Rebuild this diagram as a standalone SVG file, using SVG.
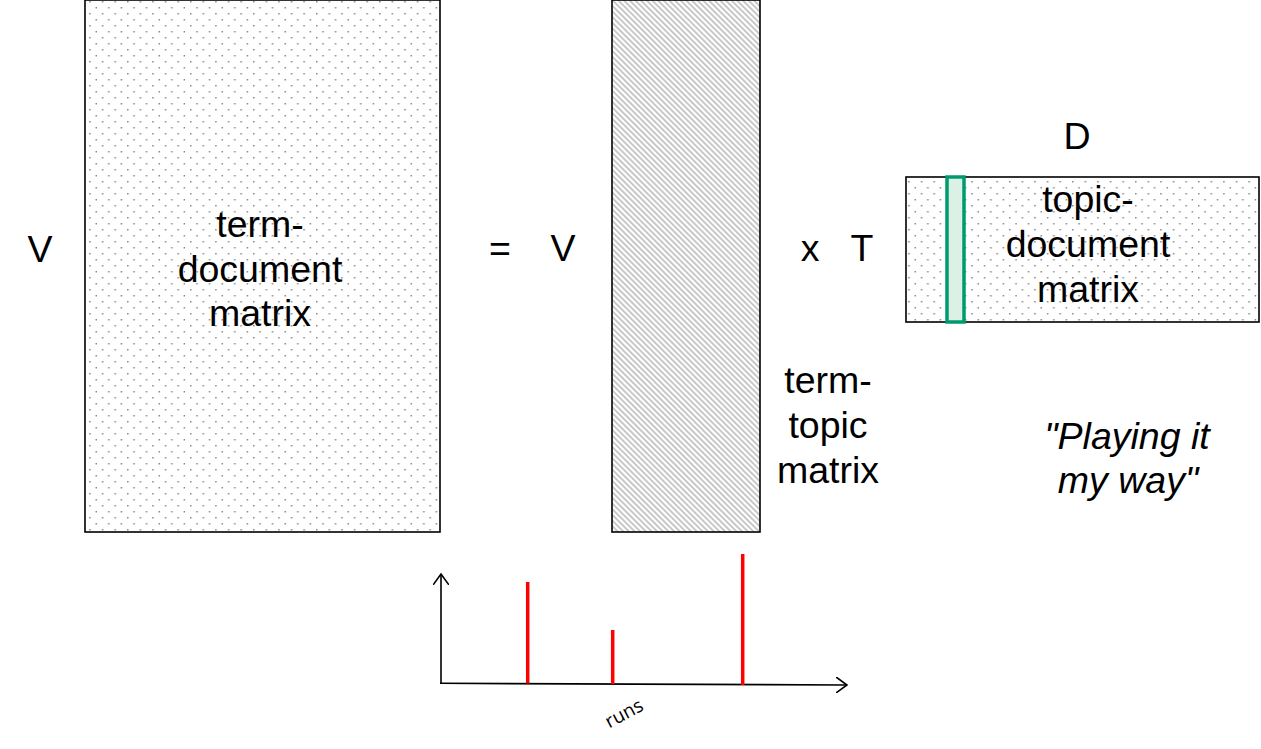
<svg xmlns="http://www.w3.org/2000/svg" width="1261" height="749" viewBox="0 0 1261 749">
  <style>
    .t { font-family: "Liberation Sans", Arial, sans-serif; font-size: 37.5px; fill: #000; text-anchor: middle; }
    .it { font-style: italic; }
    .box { stroke: #000; stroke-width: 1.6; }
    .axis { stroke: #000; stroke-width: 1.6; fill: none; }
    .bar { stroke: #ff0000; stroke-width: 3.5; }
    .small { font-family: "Open Sans", "DejaVu Sans", sans-serif; font-size: 19px; fill: #000; text-anchor: middle; }
  </style>
  <defs>
    <pattern id="dots" width="12.6" height="12" patternUnits="userSpaceOnUse">
      <rect x="0" y="0" width="12.6" height="12" fill="#fff"/>
      <rect x="1" y="1" width="1.5" height="1.5" fill="#888"/>
      <rect x="7.3" y="7" width="1.5" height="1.5" fill="#888"/>
    </pattern>
    <pattern id="hatch" width="4" height="4" patternUnits="userSpaceOnUse" patternTransform="rotate(-45)">
      <rect x="0" y="0" width="4" height="4" fill="#ffffff"/>
      <rect x="0" y="0" width="1.8" height="4" fill="#c2c2c2"/>
    </pattern>
    <marker id="open" viewBox="0 0 12 16" refX="11" refY="8" markerWidth="12" markerHeight="16" markerUnits="userSpaceOnUse" orient="auto">
      <path d="M0,0 L11,8 L0,16" fill="none" stroke="#000" stroke-width="1.6"/>
    </marker>
  </defs>

  <g id="label-V-left"><text class="t" x="40" y="262">V</text></g>

  <g id="term-document-matrix">
    <rect class="box" x="85" y="0" width="355" height="532" fill="url(#dots)"/>
    <text class="t" x="260" y="237">term-</text>
    <text class="t" x="260" y="282">document</text>
    <text class="t" x="260" y="326">matrix</text>
  </g>

  <g id="label-eq"><text class="t" x="500" y="261">=</text></g>
  <g id="label-V-mid"><text class="t" x="563" y="261">V</text></g>

  <g id="term-topic-matrix">
    <rect class="box" x="612" y="0" width="148" height="532" fill="url(#hatch)"/>
  </g>
  <g id="term-topic-label">
    <text class="t" x="828" y="393">term-</text>
    <text class="t" x="828" y="438">topic</text>
    <text class="t" x="828" y="483">matrix</text>
  </g>

  <g id="label-x"><text class="t" x="810" y="261">x</text></g>
  <g id="label-T"><text class="t" x="862" y="261">T</text></g>
  <g id="label-D"><text class="t" x="1077" y="149">D</text></g>

  <g id="topic-document-matrix">
    <rect class="box" x="906" y="177" width="353" height="145" fill="url(#dots)"/>
    <rect x="947" y="177" width="17" height="145" fill="#dcf1e6" stroke="#009a6e" stroke-width="3.5"/>
    <text class="t" x="1088" y="212">topic-</text>
    <text class="t" x="1088" y="257">document</text>
    <text class="t" x="1088" y="302">matrix</text>
  </g>

  <g id="quote">
    <text class="t it" x="1127" y="449">"Playing it</text>
    <text class="t it" x="1128" y="493">my way"</text>
  </g>

  <g id="connectors">
    <line class="axis" x1="441" y1="684" x2="441" y2="574" marker-end="url(#open)"/>
    <line class="axis" x1="440" y1="683.3" x2="847" y2="685" marker-end="url(#open)"/>
    <line class="bar" x1="527.7" y1="582" x2="527.7" y2="683.5"/>
    <line class="bar" x1="612.7" y1="630" x2="612.7" y2="684"/>
    <line class="bar" x1="742.7" y1="554" x2="742.7" y2="685"/>
  </g>

  <g id="axis-label"><text class="small" x="0" y="0" transform="translate(627,719) rotate(-28)">runs</text></g>
</svg>
